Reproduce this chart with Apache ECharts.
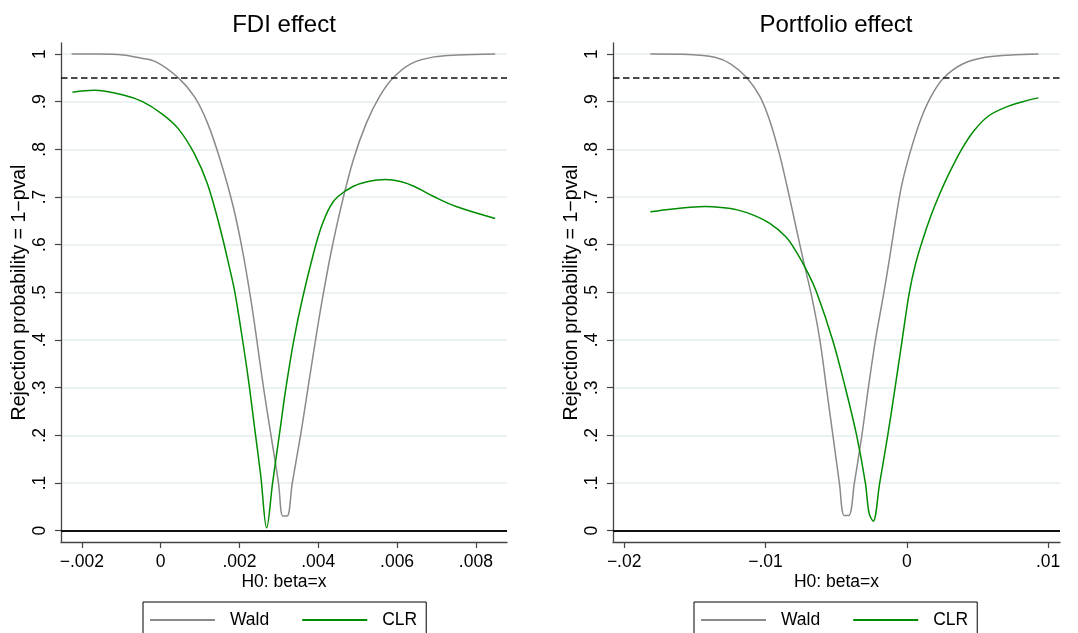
<!DOCTYPE html>
<html>
<head>
<meta charset="utf-8">
<title>Rejection probability</title>
<script src="https://cdn.jsdelivr.net/npm/echarts@6/dist/echarts.min.js"></script>
<style>
  html, body { margin: 0; padding: 0; background: #fff; }
  #chart { width: 1078px; height: 633px; }
</style>
</head>
<body>
<div id="chart"></div>
<script>
// FDI effect (left panel)
const fdiWaldX = [-0.00226, -0.0016, -0.00095, -0.00054, -0.00013, 0.00045, 0.00086, 0.00119, 0.00151, 0.00184, 0.00209, 0.00229, 0.00244, 0.00261, 0.0028, 0.00299, 0.0031, 0.00321, 0.00334, 0.00355, 0.00374, 0.00393, 0.0041, 0.00432, 0.00458, 0.00489, 0.00522, 0.00555, 0.0059, 0.00636, 0.00694, 0.00755, 0.00849]
const fdiWald = [1.0, 1.0, 0.998, 0.992, 0.984, 0.95, 0.91, 0.855, 0.778, 0.68, 0.582, 0.484, 0.4, 0.3, 0.2, 0.1, 0.031, 0.031, 0.1, 0.2, 0.3, 0.4, 0.484, 0.582, 0.68, 0.778, 0.855, 0.91, 0.95, 0.98, 0.994, 0.998, 1.0]
const fdiClrX = [-0.00224, -0.00169, -0.00095, -0.00046, 0.00004, 0.00045, 0.00086, 0.00119, 0.00151, 0.00176, 0.00189, 0.00206, 0.00223, 0.00239, 0.00254, 0.00269, 0.00284, 0.00301, 0.00318, 0.00338, 0.00359, 0.00388, 0.00408, 0.0043, 0.0045, 0.00488, 0.00524, 0.0057, 0.00611, 0.00644, 0.00693, 0.0075, 0.00849]
const fdiClr = [0.92, 0.924, 0.914, 0.9, 0.874, 0.843, 0.79, 0.727, 0.634, 0.547, 0.497, 0.41, 0.315, 0.212, 0.115, 0.006, 0.1, 0.2, 0.3, 0.4, 0.484, 0.582, 0.638, 0.68, 0.701, 0.722, 0.732, 0.737, 0.732, 0.722, 0.701, 0.68, 0.655]

// Portfolio effect (right panel)
const pfWaldX = [-0.01815, -0.01542, -0.01359, -0.01245, -0.01132, -0.0104, -0.00972, -0.00903, -0.00847, -0.0079, -0.00733, -0.00672, -0.00615, -0.00569, -0.00523, -0.00477, -0.00443, -0.0041, -0.00371, -0.00318, -0.00272, -0.00222, -0.00168, -0.00124, -0.00083, -0.00038, 0.00022, 0.00098, 0.00172, 0.00262, 0.00395, 0.00555, 0.00738, 0.00931]
const pfWald = [1.0, 0.999, 0.993, 0.979, 0.95, 0.911, 0.862, 0.792, 0.722, 0.645, 0.568, 0.49, 0.4, 0.3, 0.2, 0.1, 0.032, 0.032, 0.1, 0.2, 0.3, 0.4, 0.49, 0.568, 0.645, 0.722, 0.792, 0.862, 0.911, 0.95, 0.979, 0.993, 0.998, 1.0]
const pfClrX = [-0.01815, -0.01656, -0.01428, -0.01314, -0.012, -0.01086, -0.00972, -0.00858, -0.0079, -0.00698, -0.00638, -0.00525, -0.00435, -0.00355, -0.00293, -0.00267, -0.00238, -0.00192, -0.00135, -0.00083, -0.00033, 0.00018, 0.00062, 0.00112, 0.0017, 0.00225, 0.003, 0.00388, 0.00478, 0.00578, 0.00705, 0.0082, 0.00931]
const pfClr = [0.669, 0.675, 0.68, 0.678, 0.673, 0.662, 0.645, 0.617, 0.589, 0.54, 0.5, 0.4, 0.3, 0.2, 0.1, 0.037, 0.02, 0.1, 0.2, 0.3, 0.4, 0.5, 0.56, 0.61, 0.66, 0.701, 0.75, 0.8, 0.84, 0.87, 0.889, 0.9, 0.908]

const yTicks = [0, 0.1, 0.2, 0.3, 0.4, 0.5, 0.6, 0.7, 0.8, 0.9, 1]
const fdiTicks = [-0.002, 0, 0.002, 0.004, 0.006, 0.008]
const pfTicks = [-0.02, -0.01, 0, 0.01]
const critLevel = 0.95

const FONT = '"Liberation Sans", Arial, Helvetica, sans-serif'
const AXIS = '#444'
const WALD = '#8a8a8a'
const CLR = '#008c00'

const zip = (xs, ys) => xs.map((x, i) => [x, ys[i]])
// stata style numbers: .002, -.01, 0, 1
const stataNum = v => {
  if (v === 0) return '0'
  const s = String(Math.abs(v)).replace(/^0\./, '.')
  return (v < 0 ? '\u2212' : '') + s
}

const chartRef = document.getElementById('chart')
const chart = echarts.init(chartRef, null, { renderer: 'canvas' })

const makeXAxis = (gridIndex, min, max, ticks) => ({
  type: 'value',
  gridIndex,
  min,
  max,
  name: 'H0: beta=x',
  nameLocation: 'middle',
  nameGap: 31,
  nameMoveOverlap: false,
  nameTextStyle: { color: '#000', fontSize: 17.5, fontFamily: FONT },
  axisLine: { show: true, onZero: false, lineStyle: { color: AXIS, width: 1.3 } },
  axisTick: { show: true, length: 6, customValues: ticks, lineStyle: { color: AXIS, width: 1.2 } },
  axisLabel: { show: true, customValues: ticks, formatter: stataNum, margin: 11, color: '#000', fontSize: 17.5, fontFamily: FONT },
  splitLine: { show: false }
})

const makeYAxis = gridIndex => ({
  type: 'value',
  gridIndex,
  min: -0.0237,
  max: 1.0231,
  name: 'Rejection probability = 1\u2212pval',
  nameLocation: 'middle',
  nameGap: 31,
  nameMoveOverlap: false,
  nameTextStyle: { color: '#000', fontSize: 19.5, fontFamily: FONT },
  axisLine: { show: true, onZero: false, lineStyle: { color: AXIS, width: 1.3 } },
  axisTick: { show: true, length: 6, customValues: yTicks, lineStyle: { color: AXIS, width: 1.2 } },
  axisLabel: { show: true, customValues: yTicks, rotate: 90, formatter: stataNum, margin: 12, color: '#000', fontSize: 17.5, fontFamily: FONT },
  splitLine: { show: true, lineStyle: { color: '#e6eef0', width: 1.5 } }
})

const refLines = {
  silent: true,
  symbol: ['none', 'none'],
  label: { show: false },
  animation: false,
  data: [
    { yAxis: 0, lineStyle: { color: '#111', width: 2, type: 'solid' } },
    { yAxis: critLevel, lineStyle: { color: '#111', width: 1.6, type: [6.5, 3.5] } }
  ]
}

const curve = (name, data, color, idx, withRef) => ({
  name,
  type: 'line',
  xAxisIndex: idx,
  yAxisIndex: idx,
  data,
  symbol: 'none',
  smooth: 0.35,
  silent: true,
  lineStyle: { color, width: 1.5 },
  itemStyle: { color },
  markLine: withRef ? refLines : undefined
})

const makeLegend = left => ({
  left,
  top: 602,
  orient: 'horizontal',
  data: ['Wald', 'CLR'],
  selectedMode: false,
  icon: 'rect',
  itemWidth: 65,
  itemHeight: 2,
  itemGap: 33,
  padding: [9, 9, 12, 7],
  borderColor: '#000',
  borderWidth: 1,
  borderRadius: 0,
  backgroundColor: '#fff',
  textStyle: { color: '#000', fontSize: 17.5, fontFamily: FONT, padding: [0, 0, 0, 10] }
})

const makeTitle = (text, left) => ({
  text,
  left,
  top: 13,
  textAlign: 'center',
  padding: 0,
  textStyle: { color: '#000', fontSize: 24, fontWeight: 'normal', fontFamily: FONT }
})

const option = {
  animation: false,
  backgroundColor: '#fff',
  title: [makeTitle('FDI effect', 284), makeTitle('Portfolio effect', 836)],
  legend: [makeLegend(143), makeLegend(694)],
  grid: [
    { left: 61, top: 43, width: 446, height: 499, outerBoundsMode: 'none', containLabel: false },
    { left: 613, top: 43, width: 447, height: 499, outerBoundsMode: 'none', containLabel: false }
  ],
  xAxis: [
    makeXAxis(0, -0.00253, 0.00879, fdiTicks),
    makeXAxis(1, -0.02079, 0.01084, pfTicks)
  ],
  yAxis: [makeYAxis(0), makeYAxis(1)],
  series: [
    curve('Wald', zip(fdiWaldX, fdiWald), WALD, 0, true),
    curve('CLR', zip(fdiClrX, fdiClr), CLR, 0, false),
    curve('Wald', zip(pfWaldX, pfWald), WALD, 1, true),
    curve('CLR', zip(pfClrX, pfClr), CLR, 1, false)
  ]
}

chart.setOption(option)
</script>
</body>
</html>
